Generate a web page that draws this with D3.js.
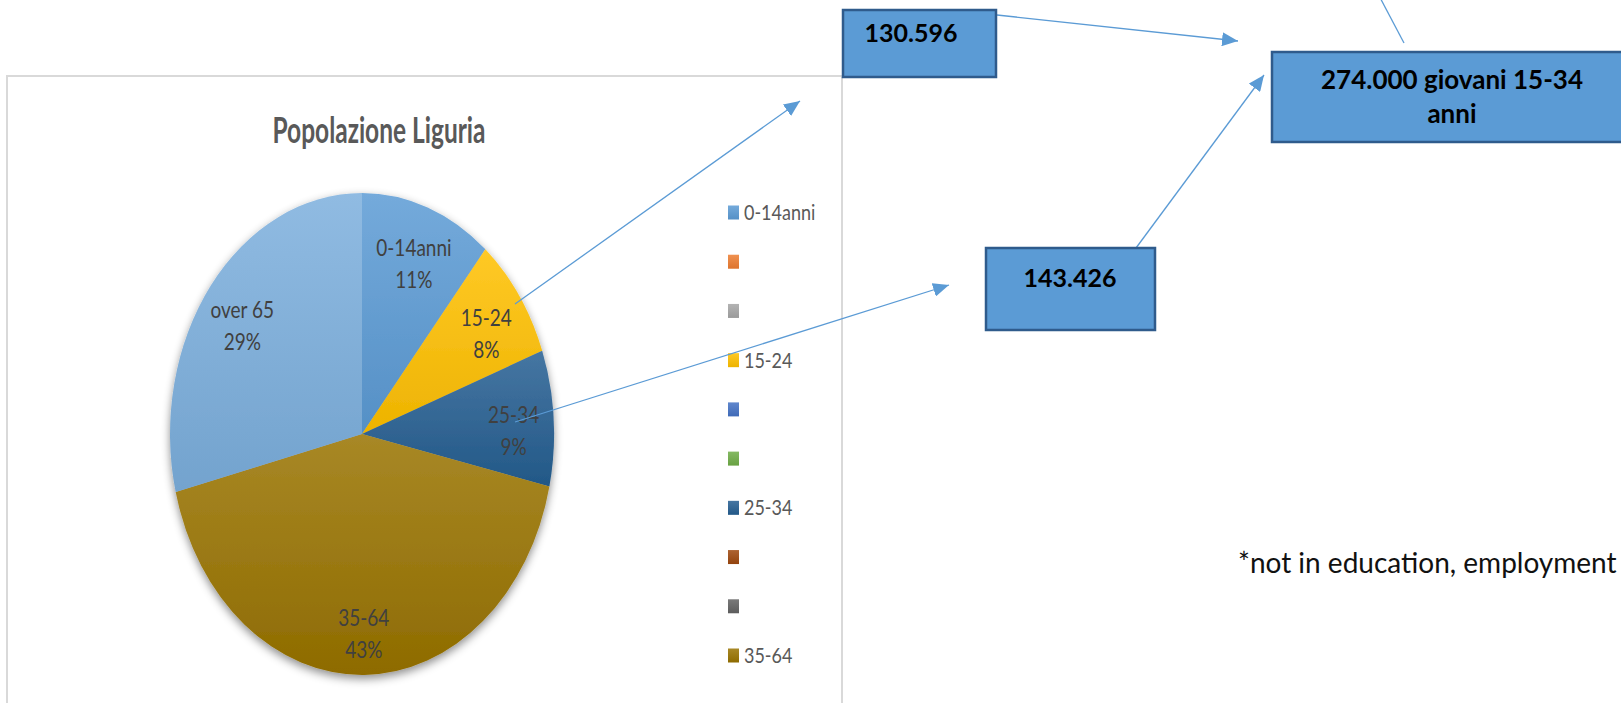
<!DOCTYPE html>
<html>
<head>
<meta charset="utf-8">
<script src="https://cdn.jsdelivr.net/npm/d3@7"></script>
<style>
  body { margin: 0; background: #ffffff; }
  svg { display: block; font-family: Lato, "Open Sans", sans-serif; }
</style>
</head>
<body>
<div id="chart"></div>
<script>
// Données (séries Excel, les catégories vides sont dans la légende)
const categories = ["0-14anni", "", "", "15-24", "", "", "25-34", "", "", "35-64", "over 65"];
const values = [175000, 0, 0, 130596, 0, 0, 143426, 0, 0, 672000, 455000];
const colors = ["#5B9BD5", "#ED7D31", "#A5A5A5", "#FFC000", "#4472C4", "#70AD47",
                "#255E91", "#9E480E", "#636363", "#997300", "#7CAFDD"];
const legendCount = 10; // "over 65" ne tient pas dans la légende
const totalLabel = ["274.000 giovani 15-34", "anni"];
const footnote = "*not in education, employment";
const title = "Popolazione Liguria";

//---------------------------------------------------------------------------------------

const width = 1621;
const height = 703;

const svg = d3.select("#chart")
  .append("svg")
  .attr("width", width)
  .attr("height", height)
  .attr("viewBox", [0, 0, width, height]);

const defs = svg.append("defs");

// ombre du camembert
const shadow = defs.append("filter")
  .attr("id", "shadow")
  .attr("x", "-20%").attr("y", "-20%")
  .attr("width", "140%").attr("height", "140%");
shadow.append("feDropShadow")
  .attr("dx", 0).attr("dy", 3)
  .attr("stdDeviation", 4)
  .attr("flood-color", "#000")
  .attr("flood-opacity", 0.45);

// dégradés clair en haut / foncé en bas
colors.forEach((c, i) => {
  const g = defs.append("linearGradient")
    .attr("id", `grad-${i}`)
    .attr("x1", 0).attr("y1", 0).attr("x2", 0).attr("y2", 1);
  g.append("stop").attr("offset", "0%").attr("stop-color", d3.interpolateRgb(c, "#ffffff")(0.15));
  g.append("stop").attr("offset", "100%").attr("stop-color", d3.color(c).darker(0.2));
});

// flèche
defs.append("marker")
  .attr("id", "arrow")
  .attr("viewBox", "0 -7 16 14")
  .attr("refX", 16).attr("refY", 0)
  .attr("markerWidth", 16).attr("markerHeight", 14)
  .attr("markerUnits", "userSpaceOnUse")
  .attr("orient", "auto")
  .append("path")
  .attr("d", "M0,-7L16,0L0,7Z")
  .attr("fill", "#5B9BD5");

//---------------------------------------------------------------------------------------

// Cadre du graphique
svg.append("rect")
  .attr("x", 7).attr("y", 76)
  .attr("width", 835).attr("height", 700)
  .attr("fill", "#fff")
  .attr("stroke", "#D9D9D9")
  .attr("stroke-width", 2);

// titre (police étirée verticalement comme l'image d'origine)
svg.append("text")
  .attr("transform", "translate(379,143) scale(1,1.5)")
  .attr("text-anchor", "middle")
  .attr("font-size", 24.5)
  .attr("font-weight", "bold")
  .attr("fill", "#595959")
  .text(title);

//---------------------------------------------------------------------------------------

// Camembert (ellipse = cercle écrasé)
const cx = 362, cy = 434, r = 192, sy = 1.255;

const pie = d3.pie().sort(null).value(d => d)(values);
const arc = d3.arc().innerRadius(0).outerRadius(r);
const labelArc = d3.arc().innerRadius(152).outerRadius(152);
const pct = d3.format(".0%");
const total = d3.sum(values);

const pieG = svg.append("g")
  .attr("transform", `translate(${cx},${cy}) scale(1,${sy})`);

pieG.append("g")
  .attr("filter", "url(#shadow)")
  .selectAll("path")
  .data(pie.filter(d => d.value > 0))
  .join("path")
  .attr("d", arc)
  .attr("fill", d => `url(#grad-${d.index})`);

const labels = pieG.append("g")
  .selectAll("text")
  .data(pie.filter(d => d.value > 0))
  .join("text")
  .attr("text-anchor", "middle")
  .attr("font-size", 19)
  .attr("fill", "#404040");

labels.append("tspan")
  .attr("x", d => labelArc.centroid(d)[0])
  .attr("y", d => labelArc.centroid(d)[1] + 1)
  .text(d => categories[d.index]);

labels.append("tspan")
  .attr("x", d => labelArc.centroid(d)[0])
  .attr("y", d => labelArc.centroid(d)[1] + 26.5)
  .text(d => pct(d.value / total));

//---------------------------------------------------------------------------------------

// Légende
const legY = d3.scalePoint()
  .domain(d3.range(legendCount))
  .range([212.5, 655.5]);

const legend = svg.append("g")
  .selectAll("g")
  .data(d3.range(legendCount))
  .join("g")
  .attr("transform", i => `translate(728,${legY(i)})`);

legend.append("rect")
  .attr("x", 0).attr("y", -7)
  .attr("width", 11).attr("height", 14)
  .attr("fill", i => `url(#grad-${i})`);

legend.append("text")
  .attr("transform", "translate(16,7.5) scale(1,1.2)")
  .attr("font-size", 18)
  .attr("fill", "#595959")
  .text(i => categories[i]);

//---------------------------------------------------------------------------------------

// Flèches
const arrows = [
  { x1: 515, y1: 304, x2: 800, y2: 101, head: true },
  { x1: 515, y1: 422, x2: 949, y2: 285, head: true },
  { x1: 997, y1: 15, x2: 1238, y2: 41, head: true },
  { x1: 1136, y1: 248, x2: 1264, y2: 75, head: true },
  { x1: 1376, y1: -10, x2: 1404, y2: 43, head: false },
];

svg.append("g")
  .selectAll("line")
  .data(arrows)
  .join("line")
  .attr("x1", d => d.x1).attr("y1", d => d.y1)
  .attr("x2", d => d.x2).attr("y2", d => d.y2)
  .attr("stroke", "#5B9BD5")
  .attr("stroke-width", 1.3)
  .attr("marker-end", d => d.head ? "url(#arrow)" : null);

//---------------------------------------------------------------------------------------

// Encadrés
const fmtIt = v => d3.format(",")(v).replace(/,/g, ".");

const boxes = [
  { x: 843, y: 10, w: 153, h: 67, tx: 911, ty: [42], size: 25, lines: [fmtIt(values[3])] },
  { x: 986, y: 248, w: 169, h: 82, tx: 1070, ty: [287], size: 25, lines: [fmtIt(values[6])] },
  { x: 1272, y: 52, w: 362, h: 90, tx: 1452, ty: [89, 123], size: 26, lines: totalLabel },
];

const boxG = svg.append("g")
  .selectAll("g")
  .data(boxes)
  .join("g");

boxG.append("rect")
  .attr("x", d => d.x).attr("y", d => d.y)
  .attr("width", d => d.w).attr("height", d => d.h)
  .attr("fill", "#5B9BD5")
  .attr("stroke", "#2F5B8C")
  .attr("stroke-width", 2.5);

boxG.each(function (d) {
  d3.select(this)
    .selectAll("text")
    .data(d.lines)
    .join("text")
    .attr("x", d.tx)
    .attr("y", (l, i) => d.ty[i])
    .attr("text-anchor", "middle")
    .attr("font-size", d.size)
    .attr("font-weight", "bold")
    .attr("fill", "#000")
    .text(l => l);
});

// note
svg.append("text")
  .attr("x", 1238)
  .attr("y", 573)
  .attr("font-size", 28)
  .attr("fill", "#111")
  .text(footnote);
</script>
</body>
</html>
